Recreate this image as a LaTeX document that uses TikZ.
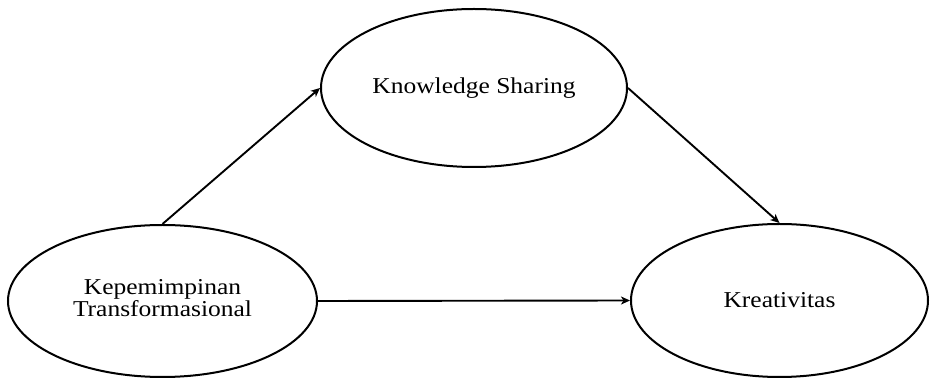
\documentclass[tikz,border=0pt]{standalone}
\usepackage{fontspec}
\setmainfont{Liberation Serif}
\usetikzlibrary{shapes.geometric,arrows.meta}
\newcommand{\sqz}[1]{\scalebox{1}[0.89]{#1}}
\begin{document}
\begin{tikzpicture}[x=1pt,y=-1pt,
  elli/.style={ellipse, draw=black, line width=2pt, inner sep=0pt,
    font=\fontsize{25.5}{24.7}\selectfont, align=center},
  conn/.style={line width=1.9pt, -{Stealth[length=9pt,width=8pt,inset=2.5pt]}}]
\path[use as bounding box, fill=white] (0,0) rectangle (930,379);
\node[elli, minimum width=306pt, minimum height=158pt] (ks) at (474,88)
  {\sqz{Knowledge Sharing}};
\node[elli, minimum width=309pt, minimum height=152pt] (kep) at (162.5,301)
  {\sqz{\begin{tabular}{@{}c@{}}Kepemimpinan\\Transformasional\end{tabular}}};
\node[elli, minimum width=297pt, minimum height=153pt] (kre) at (779.5,300.5)
  {\sqz{Kreativitas}};
\draw[conn] (kep.north) -- (ks.west);
\draw[conn] (ks.east) -- (kre.north);
\draw[conn] (kep.east) -- (kre.west);
\end{tikzpicture}
\end{document}
